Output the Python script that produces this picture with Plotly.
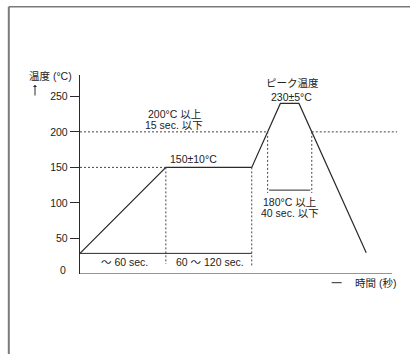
import numpy as np
import plotly.graph_objects as go

# ---- data (schematic reflow profile) ----
time_s = [0, 60, 120, 140, 153, 200]          # time axis units (sec, schematic)
temp_c = [29, 150, 150, 240, 240, 30]          # temperature (°C)
y_tick_vals = [50, 100, 150, 200, 250]
y_tick_text = ["50", "100", "150", "200", "250"]
preheat_level = 150
reflow_level = 200
dwell_bar_level = 118
x_axis_end = 218

# derived crossings of the 200 °C level
up_t = float(np.interp(reflow_level, temp_c[2:4], time_s[2:4]))
down_t = float(np.interp(reflow_level, temp_c[4:6][::-1], time_s[4:6][::-1]))

W, H = 410, 354
L, R, T, B = 80, 12, 75, 80
XR = [0, 222.2]
YR = [0, 280]

LAT = "Liberation Sans, Arial, Noto Sans CJK JP, sans-serif"
CJK = "Noto Sans CJK JP, sans-serif"
TXT = "#222222"
LINE = "#2a2a2a"
DASH = "#444444"
FS = 10.5

fig = go.Figure()
fig.add_trace(go.Scatter(x=time_s, y=temp_c, mode="lines",
                         line=dict(color=LINE, width=1.2), hoverinfo="skip"))

shapes = []
def dline(x0, y0, x1, y1, color=DASH, dash="2px,2px", width=1, ref="data"):
    d = dict(type="line", x0=x0, y0=y0, x1=x1, y1=y1,
             line=dict(color=color, width=width, dash=dash))
    if ref == "paper":
        d.update(xref="paper", yref="paper")
    else:
        d.update(xref="x", yref="y")
    shapes.append(d)

# dashed guides
dline(0, reflow_level, up_t, reflow_level)
dline(down_t, reflow_level, XR[1] - 0.6, reflow_level)
dline(0, preheat_level, time_s[1], preheat_level)
dline(time_s[1], preheat_level, time_s[1], 14)
dline(time_s[2], preheat_level, time_s[2], 12)
dline(up_t, reflow_level, up_t, 114)
dline(down_t, reflow_level, down_t, 114)
# solid interval bars
dline(0, temp_c[0], time_s[2], temp_c[0], color=LINE, dash="solid", width=1)
dline(up_t + 1, dwell_bar_level, down_t - 1, dwell_bar_level, color=LINE, dash="solid", width=1)
# x axis line
dline(0, 0, x_axis_end, 0, color=LINE, dash="solid", width=1.2)
pw = W - L - R
ph = H - T - B
# outer frame (top-left corner of a box)
fx = (8.8 - L) / pw
fy = (H - B - 6.7) / ph
dline(fx, -0.5, fx, fy, color="#7a7a7a", dash="solid", width=2, ref="paper")
dline(fx, fy, (W + 5 - L) / pw, fy, color="#7a7a7a", dash="solid", width=1.6, ref="paper")
# short dash before 時間 (秒)
dline((331.7 - L) / pw, (H - B - 282.7) / ph, (341.7 - L) / pw, (H - B - 282.7) / ph,
      color=LINE, dash="solid", width=1, ref="paper")

ann = []
def txt(x, y, s, size=FS, fam=LAT, xanchor="center", xref="x", yref="y"):
    ann.append(dict(x=x, y=y, text=s, showarrow=False, xref=xref, yref=yref,
                    xanchor=xanchor, yanchor="middle",
                    font=dict(family=fam, size=size, color=TXT)))

txt(65.7, 225.5, "200°C 以上")
txt(65.7, 210, "15 sec. 以下")
txt(79, 162, "150±10°C")
txt(148.5, 268.7, "ピーク温度")
txt(147.9, 249.5, "230±5°C")
txt(146.7, 101.7, "180°C 以上")
txt(146.4, 85.4, "40 sec. 以下")
txt(31.4, 17.3, "～ 60 sec.")
txt(90.8, 17.3, "60 ～ 120 sec.")
txt((353 - L) / pw, (H - B - 283) / ph, "時間 (秒)", xanchor="left",
    xref="paper", yref="paper")
txt((27 - L) / pw, (H - B - 76) / ph, "温度 (°C)", xanchor="left",
    xref="paper", yref="paper")
txt((68 - L) / pw, 5.6, "0", xanchor="right", xref="paper", yref="y")
# up arrow under axis title
ann.append(dict(xref="paper", yref="paper", x=(35 - L) / pw, y=(H - B - 85) / ph,
                ax=0, ay=12, text="", showarrow=True, arrowhead=1, arrowsize=0.7,
                arrowwidth=1, arrowcolor=LINE))

fig.update_layout(
    width=W, height=H, margin=dict(l=L, r=R, t=T, b=B),
    paper_bgcolor="white", plot_bgcolor="white", showlegend=False,
    shapes=shapes, annotations=ann,
    xaxis=dict(range=XR, showgrid=False, zeroline=False, showline=False,
               showticklabels=False, ticks="", fixedrange=True),
    yaxis=dict(range=YR, showgrid=False, zeroline=False, showline=True,
               linecolor=LINE, linewidth=1.2, ticks="outside", ticklen=9,
               tickcolor=LINE, tickwidth=1, tickvals=y_tick_vals,
               ticktext=y_tick_text, tickfont=dict(family=LAT, size=FS, color=TXT),
               fixedrange=True),
)
fig.write_html("out.html", config={"displayModeBar": False, "staticPlot": True},
               post_script="document.body.style.margin='0';document.body.style.overflow='hidden';")
